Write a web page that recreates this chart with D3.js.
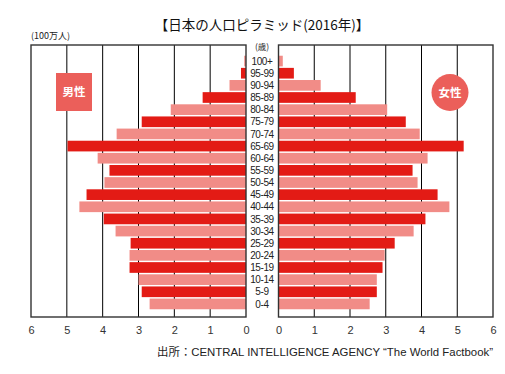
<!DOCTYPE html>
<html>
<head>
<meta charset="utf-8">
<script src="https://cdn.jsdelivr.net/npm/d3@7/dist/d3.min.js"></script>
<style>
  body { margin: 0; background: #fff; }
  svg { display: block; font-family: "Liberation Sans", Arial, "Noto Sans CJK JP", sans-serif; }
</style>
</head>
<body>
<svg id="chart" width="505" height="374"></svg>
<script>
// age groups, top to bottom
var ages = ["100+", "95-99", "90-94", "85-89", "80-84", "75-79", "70-74", "65-69",
  "60-64", "55-59", "50-54", "45-49", "40-44", "35-39", "30-34", "25-29",
  "20-24", "15-19", "10-14", "5-9", "0-4"];
// millions of people
var male = [0.05, 0.14, 0.46, 1.21, 2.1, 2.91, 3.61, 4.98, 4.14, 3.81, 3.95,
  4.45, 4.65, 3.97, 3.64, 3.22, 3.25, 3.25, 3.0, 2.91, 2.69];
var female = [0.12, 0.43, 1.18, 2.16, 3.04, 3.56, 3.95, 5.18, 4.17, 3.75, 3.89,
  4.45, 4.78, 4.11, 3.78, 3.25, 2.97, 2.91, 2.75, 2.75, 2.55];
var ticks = [0, 1, 2, 3, 4, 5, 6];

var svg = d3.select("#chart");
var plotTop = 45, plotBottom = 317;
var font = "\"Liberation Sans\", Arial, \"Noto Sans CJK JP\", sans-serif";
var jp = "\"Noto Sans CJK JP\", sans-serif";

var xL = d3.scaleLinear().domain([0, 6]).range([246, 31]);
var xR = d3.scaleLinear().domain([0, 6]).range([278.5, 493]);
var y = d3.scaleBand().domain(ages).range([55, 310]).paddingInner(0.12).paddingOuter(0.06);

var dark = "#e31b15", light = "#f18c87";
function fill(d, i) { return i % 2 === 0 ? light : dark; }

// title
svg.append("text").attr("x", 262).attr("y", 30).attr("text-anchor", "middle")
  .attr("font-size", 13.5).attr("fill", "#111").attr("font-family", jp)
  .text("【日本の人口ピラミッド(2016年)】");
svg.append("text").attr("x", 31).attr("y", 39)
  .attr("font-size", 9).attr("fill", "#222").attr("font-family", jp)
  .text("(100万人)");
svg.append("text").attr("x", 262).attr("y", 50).attr("text-anchor", "middle")
  .attr("font-size", 8.5).attr("fill", "#222").attr("font-family", jp)
  .text("(歳)");

function panel(x) {
  var g = svg.append("g");
  g.selectAll("line").data(ticks.slice(1, 6)).join("line")
    .attr("x1", function (d) { return x(d); })
    .attr("x2", function (d) { return x(d); })
    .attr("y1", plotTop).attr("y2", plotBottom)
    .attr("stroke", "#000").attr("stroke-width", 1);
  var r = d3.extent(x.range());
  svg.append("rect").attr("class", "frame").attr("x", r[0]).attr("y", plotTop)
    .attr("width", r[1] - r[0]).attr("height", plotBottom - plotTop)
    .attr("fill", "none").attr("stroke", "#333").attr("stroke-width", 1.4);
  svg.append("g").attr("transform", "translate(0," + plotBottom + ")")
    .call(d3.axisBottom(x).tickValues(ticks).tickFormat(d3.format("d"))
      .tickSize(0).tickPadding(9))
    .call(function (a) {
      a.select(".domain").remove();
      a.selectAll("text").attr("font-size", 11).attr("fill", "#333")
        .attr("font-family", font);
    });
}
panel(xL);
panel(xR);

svg.append("g").selectAll("rect").data(male).join("rect")
  .attr("x", function (d) { return xL(d); })
  .attr("y", function (d, i) { return y(ages[i]); })
  .attr("width", function (d) { return xL(0) - xL(d); })
  .attr("height", y.bandwidth())
  .attr("fill", fill);

svg.append("g").selectAll("rect").data(female).join("rect")
  .attr("x", xR(0))
  .attr("y", function (d, i) { return y(ages[i]); })
  .attr("width", function (d) { return xR(d) - xR(0); })
  .attr("height", y.bandwidth())
  .attr("fill", fill);

// bring frames above bars
svg.selectAll("rect.frame").raise();

// age labels
svg.append("g").selectAll("text").data(ages).join("text")
  .attr("x", 262).attr("y", function (d) { return y(d) + y.bandwidth() / 2; })
  .attr("dy", "0.36em").attr("text-anchor", "middle")
  .attr("font-size", 10).attr("fill", "#222").attr("letter-spacing", -0.4)
  .text(function (d) { return d; });

// legends
svg.append("rect").attr("x", 56).attr("y", 73).attr("width", 36).attr("height", 38)
  .attr("fill", "#eb5f5a");
svg.append("text").attr("x", 74).attr("y", 92).attr("dy", "0.36em")
  .attr("text-anchor", "middle").attr("font-size", 11.5).attr("font-weight", "bold")
  .attr("fill", "#fff").attr("font-family", jp)
  .text("男性");
svg.append("circle").attr("cx", 450).attr("cy", 92.5).attr("r", 18.5)
  .attr("fill", "#eb5f5a");
svg.append("text").attr("x", 450).attr("y", 92.5).attr("dy", "0.36em")
  .attr("text-anchor", "middle").attr("font-size", 11.5).attr("font-weight", "bold")
  .attr("fill", "#fff").attr("font-family", jp)
  .text("女性");

// source
svg.append("text").attr("x", 493).attr("y", 356).attr("text-anchor", "end")
  .attr("font-size", 11.4).attr("fill", "#222")
  .attr("font-family", font)
  .text("出所：CENTRAL INTELLIGENCE AGENCY \u201cThe World Factbook\u201d");
</script>
</body>
</html>
